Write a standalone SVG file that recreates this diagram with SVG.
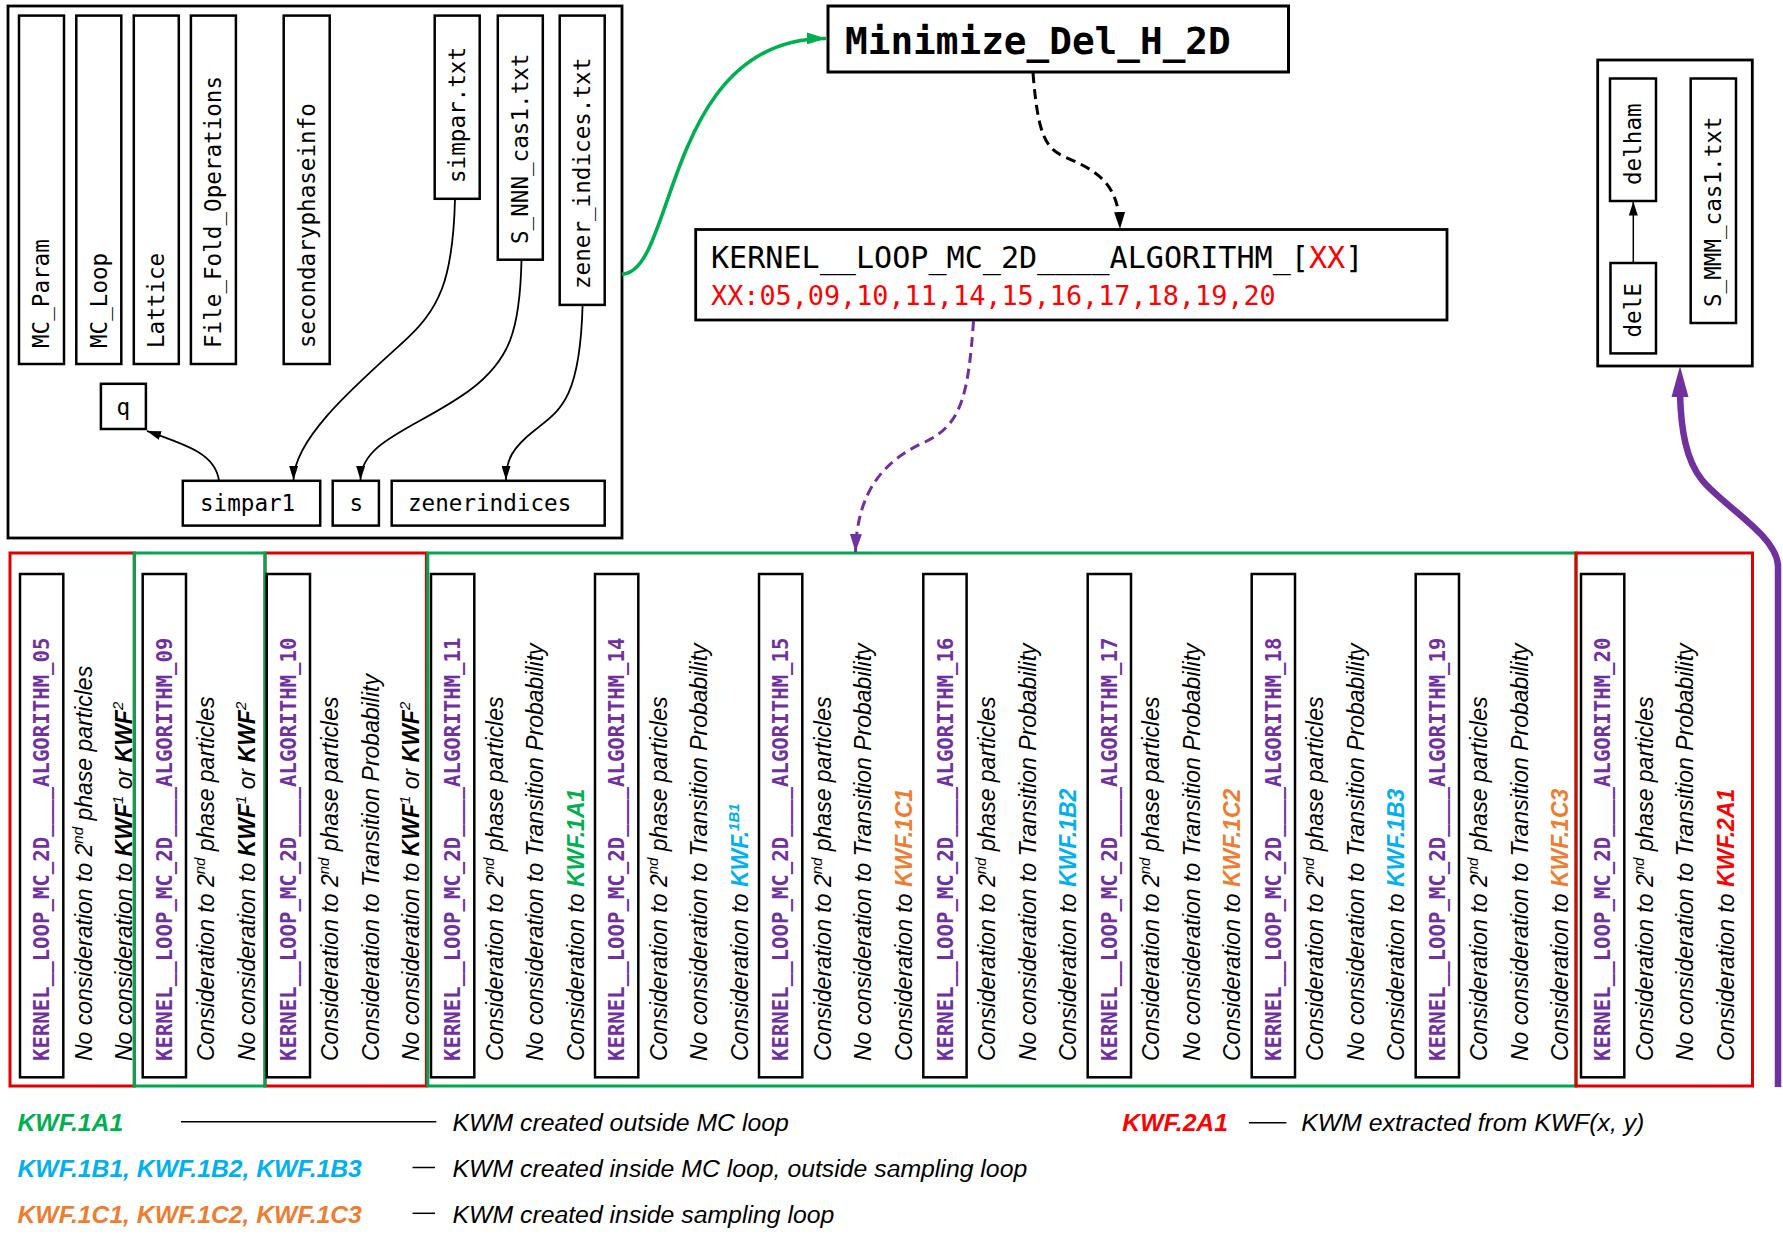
<svg xmlns="http://www.w3.org/2000/svg" width="1783" height="1246" viewBox="0 0 1783 1246">
<defs>
<style>
.node{fill:#fff;stroke:#000;stroke-width:2.5}
.mono{font-family:"DejaVu Sans Mono","Liberation Mono",monospace;font-size:22.6px;fill:#000}
.kname{font-family:"DejaVu Sans Mono","Liberation Mono",monospace;font-weight:bold;font-size:20.7px;fill:#7030a0}
.desc{font-family:"Liberation Sans",Arial,sans-serif;font-style:italic;font-size:23px;fill:#000}
.b{font-weight:bold}
.sup{font-size:15px}
.g{fill:#00b050}.bl{fill:#00b0f0}.o{fill:#ed7d31}.r{fill:#ff0000}
.redbox{fill:none;stroke:#e00000;stroke-width:3}
.grnbox{fill:none;stroke:#00a650;stroke-width:3}
.edge{fill:none;stroke:#000;stroke-width:1.8}
.leg{font-family:"Liberation Sans",Arial,sans-serif;font-style:italic;font-size:24.8px;fill:#000}
.legk{font-family:"Liberation Sans",Arial,sans-serif;font-style:italic;font-weight:bold;font-size:24.7px}
</style>
<marker id="ah" markerUnits="userSpaceOnUse" markerWidth="14" markerHeight="9" refX="14" refY="4.5" orient="auto" viewBox="0 0 14 9"><path d="M0,0 L14,4.5 L0,9 z" fill="#000"/></marker>
<marker id="ahd" markerUnits="userSpaceOnUse" markerWidth="17" markerHeight="11" refX="17" refY="5.5" orient="auto" viewBox="0 0 17 11"><path d="M0,0 L17,5.5 L0,11 z" fill="#000"/></marker>
<marker id="ahg" markerUnits="userSpaceOnUse" markerWidth="19" markerHeight="12" refX="19" refY="6" orient="auto" viewBox="0 0 19 12"><path d="M0,0 L19,6 L0,12 z" fill="#00b050"/></marker>
<marker id="ahp" markerUnits="userSpaceOnUse" markerWidth="18" markerHeight="12" refX="18" refY="6" orient="auto" viewBox="0 0 18 12"><path d="M0,0 L18,6 L0,12 z" fill="#7030a0"/></marker>
</defs>
<rect width="1783" height="1246" fill="#fff"/>

<!-- top-left cluster -->
<g id="cluster_main">
<rect x="8" y="6" width="614" height="532" fill="none" stroke="#000" stroke-width="2.8"/>
</g>
<g id="MC_Param"><rect class="node" x="19" y="15.6" width="45" height="348.4"/><text class="mono" transform="translate(49.4,348) rotate(-90)">MC_Param</text></g>
<g id="MC_Loop"><rect class="node" x="76.3" y="15.6" width="45" height="348.4"/><text class="mono" transform="translate(106.8,348) rotate(-90)">MC_Loop</text></g>
<g id="Lattice"><rect class="node" x="133.8" y="15.6" width="45" height="348.4"/><text class="mono" transform="translate(164.3,348) rotate(-90)">Lattice</text></g>
<g id="File_Fold_Operations"><rect class="node" x="190.9" y="15.6" width="45" height="348.4"/><text class="mono" transform="translate(221.4,348) rotate(-90)">File_Fold_Operations</text></g>
<g id="secondaryphaseinfo"><rect class="node" x="283.7" y="15.6" width="46" height="348.4"/><text class="mono" transform="translate(314.8,348) rotate(-90)">secondaryphaseinfo</text></g>
<g id="simpar_txt"><rect class="node" x="434.7" y="15.6" width="45" height="183.2"/><text class="mono" transform="translate(465.2,183) rotate(-90)">simpar.txt</text></g>
<g id="S_NNN_cas1_txt"><rect class="node" x="497.8" y="15.6" width="45" height="244.1"/><text class="mono" transform="translate(528.3,244) rotate(-90)">S_NNN_cas1.txt</text></g>
<g id="zener_indices_txt"><rect class="node" x="559.7" y="15.6" width="45" height="289.3"/><text class="mono" transform="translate(590.2,289) rotate(-90)">zener_indices.txt</text></g>
<g id="q"><rect class="node" x="100.9" y="383.8" width="45" height="45.2"/><text class="mono" x="116.5" y="414.6">q</text></g>
<g id="simpar1"><rect class="node" x="182.8" y="480.8" width="137.4" height="44.8"/><text class="mono" x="200" y="511.2">simpar1</text></g>
<g id="s"><rect class="node" x="332.7" y="480.8" width="46.2" height="44.8"/><text class="mono" x="349.5" y="511.2">s</text></g>
<g id="zenerindices"><rect class="node" x="391.7" y="480.8" width="213" height="44.8"/><text class="mono" x="408" y="511.2">zenerindices</text></g>

<!-- top middle -->
<g id="Minimize_Del_H_2D"><rect x="828" y="6" width="460.5" height="66" fill="#fff" stroke="#000" stroke-width="3"/><text x="845" y="53.6" font-family="'DejaVu Sans Mono','Liberation Mono',monospace" font-weight="bold" font-size="37.7px" fill="#000">Minimize_Del_H_2D</text></g>
<g id="KERNEL_LOOP_MC_2D_ALGORITHM_XX"><rect x="695.7" y="229.5" width="751.3" height="90.5" fill="#fff" stroke="#000" stroke-width="2.8"/>
<text x="711" y="268" font-family="'DejaVu Sans Mono','Liberation Mono',monospace" font-size="30.1px" fill="#000">KERNEL__LOOP_MC_2D____ALGORITHM_[<tspan fill="#ff0000">XX</tspan>]</text>
<text x="711" y="305" font-family="'DejaVu Sans Mono','Liberation Mono',monospace" font-size="26.8px" fill="#ff0000">XX:05,09,10,11,14,15,16,17,18,19,20</text></g>

<!-- top-right cluster -->
<g id="cluster_delham"><rect x="1597.7" y="60" width="154.6" height="306" fill="none" stroke="#000" stroke-width="2.8"/></g>
<g id="delham"><rect class="node" x="1610" y="78.5" width="46" height="122.5"/><text class="mono" transform="translate(1641,185) rotate(-90)">delham</text></g>
<g id="delE"><rect class="node" x="1610.5" y="263" width="45.5" height="90.4"/><text class="mono" transform="translate(1641,337.5) rotate(-90)">delE</text></g>
<g id="S_MMM_cas1_txt"><rect class="node" x="1690.7" y="78.5" width="45.3" height="244.5"/><text class="mono" transform="translate(1721.3,307) rotate(-90)">S_MMM_cas1.txt</text></g>

<!-- bottom group boxes -->
<g id="groups">
<rect class="redbox" x="10" y="553" width="124.3" height="533"/>
<rect class="redbox" x="265" y="553" width="161.4" height="533"/>
<rect class="grnbox" x="134.3" y="553" width="130.7" height="533"/>
<rect class="grnbox" x="427.8" y="553" width="1148.2" height="533"/>
<rect class="redbox" x="1576" y="553" width="176.5" height="533"/>
</g>

<g id="ALG_05"><rect class="node" x="20" y="574" width="43.3" height="503.3"/>
<text class="kname" transform="translate(49.2,1061) rotate(-90)">KERNEL__LOOP_MC_2D____ALGORITHM_05</text>
<text class="desc" transform="translate(91.7,1061) rotate(-90)">No consideration to 2<tspan class="sup" dy="-9">nd</tspan><tspan dy="9"> phase particles</tspan></text>
<text class="desc" transform="translate(132.2,1061) rotate(-90)">No consideration to <tspan class="b">KWF</tspan><tspan class="sup" dy="-9">1</tspan><tspan dy="9"> or </tspan><tspan class="b">KWF</tspan><tspan class="sup" dy="-9">2</tspan></text></g>

<g id="ALG_09"><rect class="node" x="142.7" y="574" width="43.3" height="503.3"/>
<text class="kname" transform="translate(171.8,1061) rotate(-90)">KERNEL__LOOP_MC_2D____ALGORITHM_09</text>
<text class="desc" transform="translate(214.3,1061) rotate(-90)">Consideration to 2<tspan class="sup" dy="-9">nd</tspan><tspan dy="9"> phase particles</tspan></text>
<text class="desc" transform="translate(254.8,1061) rotate(-90)">No consideration to <tspan class="b">KWF</tspan><tspan class="sup" dy="-9">1</tspan><tspan dy="9"> or </tspan><tspan class="b">KWF</tspan><tspan class="sup" dy="-9">2</tspan></text></g>

<g id="ALG_10"><rect class="node" x="266.7" y="574" width="43.3" height="503.3"/>
<text class="kname" transform="translate(295.8,1061) rotate(-90)">KERNEL__LOOP_MC_2D____ALGORITHM_10</text>
<text class="desc" transform="translate(338.3,1061) rotate(-90)">Consideration to 2<tspan class="sup" dy="-9">nd</tspan><tspan dy="9"> phase particles</tspan></text>
<text class="desc" transform="translate(378.8,1061) rotate(-90)">Consideration to Transition Probability</text>
<text class="desc" transform="translate(419.3,1061) rotate(-90)">No consideration to <tspan class="b">KWF</tspan><tspan class="sup" dy="-9">1</tspan><tspan dy="9"> or </tspan><tspan class="b">KWF</tspan><tspan class="sup" dy="-9">2</tspan></text></g>

<g id="ALG_11"><rect class="node" x="431" y="574" width="43.3" height="503.3"/>
<text class="kname" transform="translate(460.2,1061) rotate(-90)">KERNEL__LOOP_MC_2D____ALGORITHM_11</text>
<text class="desc" transform="translate(502.7,1061) rotate(-90)">Consideration to 2<tspan class="sup" dy="-9">nd</tspan><tspan dy="9"> phase particles</tspan></text>
<text class="desc" transform="translate(543.2,1061) rotate(-90)">No consideration to Transition Probability</text>
<text class="desc" transform="translate(583.7,1061) rotate(-90)">Consideration to <tspan class="b g">KWF.1A1</tspan></text></g>

<g id="ALG_14"><rect class="node" x="595" y="574" width="43.3" height="503.3"/>
<text class="kname" transform="translate(624.2,1061) rotate(-90)">KERNEL__LOOP_MC_2D____ALGORITHM_14</text>
<text class="desc" transform="translate(666.7,1061) rotate(-90)">Consideration to 2<tspan class="sup" dy="-9">nd</tspan><tspan dy="9"> phase particles</tspan></text>
<text class="desc" transform="translate(707.2,1061) rotate(-90)">No consideration to Transition Probability</text>
<text class="desc" transform="translate(747.7,1061) rotate(-90)">Consideration to <tspan class="b bl">KWF.</tspan><tspan class="b bl sup" dy="-9">1B1</tspan></text></g>

<g id="ALG_15"><rect class="node" x="759" y="574" width="43.3" height="503.3"/>
<text class="kname" transform="translate(788.2,1061) rotate(-90)">KERNEL__LOOP_MC_2D____ALGORITHM_15</text>
<text class="desc" transform="translate(830.7,1061) rotate(-90)">Consideration to 2<tspan class="sup" dy="-9">nd</tspan><tspan dy="9"> phase particles</tspan></text>
<text class="desc" transform="translate(871.2,1061) rotate(-90)">No consideration to Transition Probability</text>
<text class="desc" transform="translate(911.7,1061) rotate(-90)">Consideration to <tspan class="b o">KWF.1C1</tspan></text></g>

<g id="ALG_16"><rect class="node" x="923.3" y="574" width="43.3" height="503.3"/>
<text class="kname" transform="translate(952.5,1061) rotate(-90)">KERNEL__LOOP_MC_2D____ALGORITHM_16</text>
<text class="desc" transform="translate(995,1061) rotate(-90)">Consideration to 2<tspan class="sup" dy="-9">nd</tspan><tspan dy="9"> phase particles</tspan></text>
<text class="desc" transform="translate(1035.5,1061) rotate(-90)">No consideration to Transition Probability</text>
<text class="desc" transform="translate(1076,1061) rotate(-90)">Consideration to <tspan class="b bl">KWF.1B2</tspan></text></g>

<g id="ALG_17"><rect class="node" x="1087.7" y="574" width="43.3" height="503.3"/>
<text class="kname" transform="translate(1116.8,1061) rotate(-90)">KERNEL__LOOP_MC_2D____ALGORITHM_17</text>
<text class="desc" transform="translate(1159.3,1061) rotate(-90)">Consideration to 2<tspan class="sup" dy="-9">nd</tspan><tspan dy="9"> phase particles</tspan></text>
<text class="desc" transform="translate(1199.8,1061) rotate(-90)">No consideration to Transition Probability</text>
<text class="desc" transform="translate(1240.3,1061) rotate(-90)">Consideration to <tspan class="b o">KWF.1C2</tspan></text></g>

<g id="ALG_18"><rect class="node" x="1251.7" y="574" width="43.3" height="503.3"/>
<text class="kname" transform="translate(1280.8,1061) rotate(-90)">KERNEL__LOOP_MC_2D____ALGORITHM_18</text>
<text class="desc" transform="translate(1323.3,1061) rotate(-90)">Consideration to 2<tspan class="sup" dy="-9">nd</tspan><tspan dy="9"> phase particles</tspan></text>
<text class="desc" transform="translate(1363.8,1061) rotate(-90)">No consideration to Transition Probability</text>
<text class="desc" transform="translate(1404.3,1061) rotate(-90)">Consideration to <tspan class="b bl">KWF.1B3</tspan></text></g>

<g id="ALG_19"><rect class="node" x="1415.7" y="574" width="43.3" height="503.3"/>
<text class="kname" transform="translate(1444.8,1061) rotate(-90)">KERNEL__LOOP_MC_2D____ALGORITHM_19</text>
<text class="desc" transform="translate(1487.3,1061) rotate(-90)">Consideration to 2<tspan class="sup" dy="-9">nd</tspan><tspan dy="9"> phase particles</tspan></text>
<text class="desc" transform="translate(1527.8,1061) rotate(-90)">No consideration to Transition Probability</text>
<text class="desc" transform="translate(1568.3,1061) rotate(-90)">Consideration to <tspan class="b o">KWF.1C3</tspan></text></g>

<g id="ALG_20"><rect class="node" x="1581" y="574" width="43.3" height="503.3"/>
<text class="kname" transform="translate(1610.2,1061) rotate(-90)">KERNEL__LOOP_MC_2D____ALGORITHM_20</text>
<text class="desc" transform="translate(1652.7,1061) rotate(-90)">Consideration to 2<tspan class="sup" dy="-9">nd</tspan><tspan dy="9"> phase particles</tspan></text>
<text class="desc" transform="translate(1693.2,1061) rotate(-90)">No consideration to Transition Probability</text>
<text class="desc" transform="translate(1733.7,1061) rotate(-90)">Consideration to <tspan class="b r">KWF.2A1</tspan></text></g>

<!-- connectors -->
<g id="connectors">
<path class="edge" d="M455,199 C453,280 440,310 400,345 C350,390 294,440 293.5,480" marker-end="url(#ah)"/>
<path class="edge" d="M521.5,260 C520,330 510,360 470,390 C420,427 361,440 360.5,480" marker-end="url(#ah)"/>
<path class="edge" d="M582.6,305 C580,400 560,410 535,430 C512,448 506,460 506,480" marker-end="url(#ah)"/>
<path class="edge" d="M219,481 C216,455 190,446 147,431" marker-end="url(#ah)"/>
<path d="M622,274 C676,274 664,38 826,38.5" fill="none" stroke="#00b050" stroke-width="3.6" marker-end="url(#ahg)"/>
<path d="M1033,73 C1038,135 1045,148 1065,157 C1100,172 1119,185 1120,229" fill="none" stroke="#000" stroke-width="3" stroke-dasharray="10,6" marker-end="url(#ahd)"/>
<path d="M973.5,321 C968,400 960,425 925,442 C885,460 857,490 855.5,552" fill="none" stroke="#7030a0" stroke-width="3" stroke-dasharray="10,6" marker-end="url(#ahp)"/>
<path d="M1633.3,263 L1633.3,201.5" fill="none" stroke="#000" stroke-width="1.5" marker-end="url(#ah)"/>
<path d="M1778,1087 L1778,565 C1776,535 1722,505 1702,480 C1686,460 1681,430 1680,394" fill="none" stroke="#7030a0" stroke-width="6.5"/>
<polygon points="1680,366 1671.5,397 1688.5,397" fill="#7030a0"/>
</g>

<!-- legend -->
<g id="legend">
<text class="legk g" x="17.5" y="1131">KWF.1A1</text>
<line x1="181" y1="1121.7" x2="436.3" y2="1121.7" stroke="#000" stroke-width="1.5"/>
<text class="leg" x="452.5" y="1131">KWM created outside MC loop</text>
<text class="legk bl" x="17.5" y="1177">KWF.1B1, KWF.1B2, KWF.1B3</text>
<line x1="412.5" y1="1167.5" x2="435" y2="1167.5" stroke="#000" stroke-width="1.5"/>
<text class="leg" x="452.5" y="1177">KWM created inside MC loop, outside sampling loop</text>
<text class="legk o" x="17.5" y="1223">KWF.1C1, KWF.1C2, KWF.1C3</text>
<line x1="412.5" y1="1213.3" x2="435" y2="1213.3" stroke="#000" stroke-width="1.5"/>
<text class="leg" x="452.5" y="1223">KWM created inside sampling loop</text>
<text class="legk r" x="1122.3" y="1131">KWF.2A1</text>
<line x1="1249" y1="1122.7" x2="1286.4" y2="1122.7" stroke="#000" stroke-width="1.5"/>
<text class="leg" x="1301.3" y="1131">KWM extracted from KWF(x, y)</text>
</g>
</svg>
